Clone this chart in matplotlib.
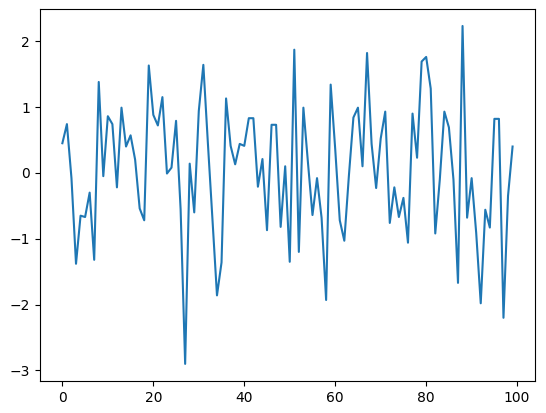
import matplotlib
matplotlib.use("Agg")
import matplotlib.pyplot as plt
import numpy as np

values = [
    0.45, 0.74, -0.08, -1.38, -0.65, -0.67, -0.30, -1.32, 1.38, -0.05,
    0.86, 0.74, -0.22, 0.99, 0.40, 0.57, 0.20, -0.54, -0.72, 1.63,
    0.88, 0.72, 1.15, -0.01, 0.08, 0.79, -0.55, -2.90, 0.14, -0.60,
    0.94, 1.64, 0.45, -0.70, -1.86, -1.36, 1.13, 0.41, 0.13, 0.44,
    0.41, 0.83, 0.83, -0.21, 0.21, -0.87, 0.73, 0.73, -0.82, 0.10,
    -1.35, 1.87, -1.20, 0.99, 0.16, -0.64, -0.08, -0.68, -1.93, 1.34,
    0.36, -0.72, -1.03, -0.05, 0.84, 0.99, 0.10, 1.82, 0.44, -0.23,
    0.52, 0.93, -0.76, -0.22, -0.67, -0.38, -1.06, 0.90, 0.23, 1.69,
    1.76, 1.28, -0.92, -0.10, 0.93, 0.69, -0.10, -1.67, 2.23, -0.68,
    -0.08, -0.91, -1.98, -0.56, -0.83, 0.82, 0.82, -2.20, -0.35, 0.40,
]

fig, ax = plt.subplots(figsize=(5.46, 4.13), dpi=100)
fig.subplots_adjust(left=0.073, right=0.98, bottom=0.078, top=0.978)
ax.plot(np.arange(len(values)), values)
fig.savefig("out.png")
